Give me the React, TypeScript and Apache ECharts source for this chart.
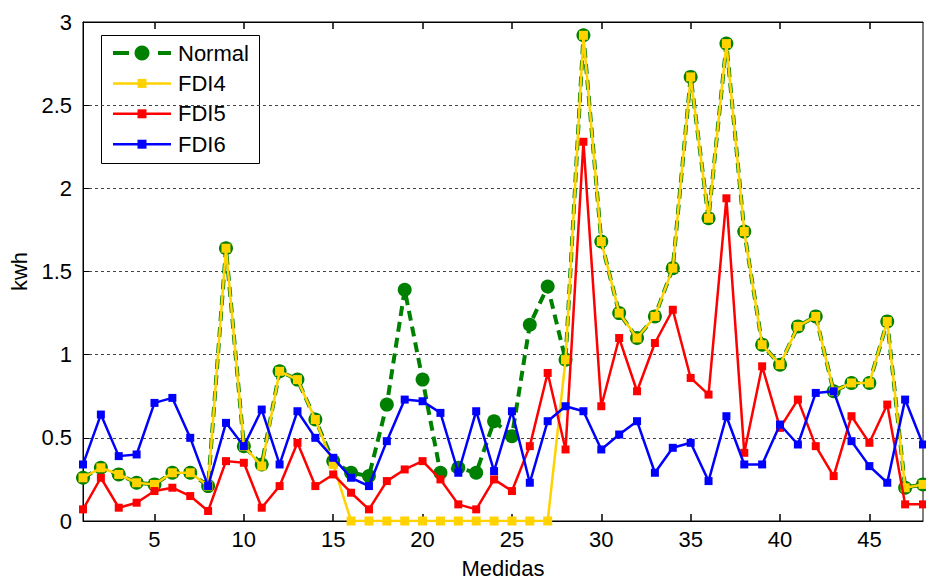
import React, { useEffect, useRef } from "react";
import * as echarts from "echarts";

const categories: string[] = Array.from({ length: 48 }, (_, i) => String(i + 1));

const normal = [
  0.26, 0.32, 0.28, 0.23, 0.22, 0.29, 0.29, 0.21, 1.64, 0.45,
  0.34, 0.9, 0.85, 0.61, 0.36, 0.29, 0.27, 0.7, 1.39, 0.85,
  0.29, 0.32, 0.29, 0.6, 0.51, 1.18, 1.41, 0.97, 2.92, 1.68,
  1.25, 1.1, 1.23, 1.52, 2.67, 1.82, 2.87, 1.74, 1.06, 0.94,
  1.17, 1.23, 0.78, 0.83, 0.83, 1.2, 0.2, 0.22,
];

const fdi4 = [
  0.26, 0.32, 0.28, 0.23, 0.22, 0.29, 0.29, 0.21, 1.64, 0.45,
  0.33, 0.9, 0.85, 0.61, 0.34, 0, 0, 0, 0, 0,
  0, 0, 0, 0, 0, 0, 0, 0.97, 2.92, 1.68,
  1.25, 1.1, 1.23, 1.52, 2.67, 1.82, 2.87, 1.74, 1.06, 0.94,
  1.17, 1.23, 0.78, 0.83, 0.83, 1.2, 0.2, 0.22,
];

const fdi5 = [
  0.07, 0.26, 0.08, 0.11, 0.18, 0.2, 0.15, 0.06, 0.36, 0.35,
  0.08, 0.21, 0.47, 0.21, 0.28, 0.17, 0.07, 0.24, 0.31, 0.36,
  0.25, 0.1, 0.07, 0.25, 0.18, 0.45, 0.89, 0.43, 2.28, 0.69,
  1.1, 0.78, 1.07, 1.27, 0.86, 0.76, 1.94, 0.41, 0.93, 0.56,
  0.73, 0.45, 0.27, 0.63, 0.47, 0.7, 0.1, 0.1,
];

const fdi6 = [
  0.34, 0.64, 0.39, 0.4, 0.71, 0.74, 0.5, 0.21, 0.59, 0.45,
  0.67, 0.34, 0.66, 0.5, 0.38, 0.26, 0.21, 0.48, 0.73, 0.72,
  0.65, 0.29, 0.66, 0.3, 0.66, 0.23, 0.6, 0.69, 0.66, 0.43,
  0.52, 0.6, 0.29, 0.44, 0.47, 0.24, 0.63, 0.34, 0.34, 0.58,
  0.46, 0.77, 0.78, 0.48, 0.33, 0.23, 0.73, 0.46,
];

const seriesNames = ["Normal", "FDI4", "FDI5", "FDI6"];
const seriesColors = ["#008000", "#ffd200", "#ff0000", "#0000ff"];
const FONT = "Liberation Sans, Arial, sans-serif";

function buildLegend() {
  const children: any[] = [
    {
      type: "rect",
      shape: { x: 101.5, y: 35.5, width: 158, height: 128 },
      style: { fill: "#fff", stroke: "#000", lineWidth: 1 },
    },
  ];
  seriesNames.forEach((name, i) => {
    const cy = 53 + i * 30.4;
    const color = seriesColors[i];
    if (i === 0) {
      children.push(
        { type: "line", shape: { x1: 113, y1: cy, x2: 129, y2: cy }, style: { stroke: color, lineWidth: 4 } },
        { type: "line", shape: { x1: 158, y1: cy, x2: 171, y2: cy }, style: { stroke: color, lineWidth: 4 } },
        { type: "circle", shape: { cx: 142, cy, r: 7.5 }, style: { fill: color } }
      );
    } else {
      children.push(
        { type: "line", shape: { x1: 113, y1: cy, x2: 171, y2: cy }, style: { stroke: color, lineWidth: 2.5 } },
        { type: "rect", shape: { x: 137.5, y: cy - 4.5, width: 9, height: 9 }, style: { fill: color } }
      );
    }
    children.push({
      type: "text",
      x: 178,
      y: cy,
      style: {
        text: name,
        fill: "#000",
        font: `22px ${FONT}`,
        verticalAlign: "middle",
        align: "left",
      },
    });
  });
  return [{ type: "group", z: 100, children }];
}

export default function App() {
  const ref = useRef<HTMLDivElement>(null);

  useEffect(() => {
    if (!ref.current) return;
    const chart = echarts.init(ref.current, undefined, { renderer: "svg" });
    const showEvery5 = (index: number, value: string) => Number(value) % 5 === 0;

    const xBase = {
      type: "category" as const,
      data: categories,
      boundaryGap: false,
      axisLine: { show: true, lineStyle: { color: "#000", width: 1 } },
      axisTick: {
        show: true,
        inside: true,
        length: 7,
        interval: showEvery5,
        lineStyle: { color: "#000", width: 1.5 },
      },
      splitLine: { show: false },
    };

    const lineSeries = (i: number, data: number[], extra: any) => ({
      name: seriesNames[i],
      type: "line",
      xAxisIndex: 0,
      data,
      showAllSymbol: true,
      itemStyle: { color: seriesColors[i] },
      ...extra,
    });

    chart.setOption({
      animation: false,
      backgroundColor: "#fff",
      textStyle: { fontFamily: FONT },
      grid: {
        left: 83,
        right: 3,
        top: 22,
        bottom: 59,
        show: true,
        borderColor: "#000",
        borderWidth: 1,
      },
      graphic: buildLegend(),
      xAxis: [
        {
          ...xBase,
          position: "bottom",
          name: "Medidas",
          nameLocation: "middle",
          nameGap: 36,
          nameTextStyle: { fontSize: 22, color: "#000", fontFamily: FONT },
          axisLabel: {
            interval: showEvery5,
            fontSize: 22,
            color: "#000",
            margin: 7,
            fontFamily: FONT,
          },
        },
        {
          ...xBase,
          position: "top",
          axisLabel: { show: false },
        },
      ],
      yAxis: {
        type: "value",
        min: 0,
        max: 3,
        interval: 0.5,
        name: "kwh",
        nameLocation: "middle",
        nameGap: 53,
        nameRotate: 90,
        nameTextStyle: { fontSize: 22, color: "#000", fontFamily: FONT },
        axisLine: { show: true, lineStyle: { color: "#000", width: 1 } },
        axisTick: { show: true, inside: true, length: 6, lineStyle: { color: "#000" } },
        axisLabel: { fontSize: 22, color: "#000", margin: 11, fontFamily: FONT },
        splitLine: {
          show: true,
          lineStyle: { color: "#444", width: 1, type: [3, 3] },
        },
      },
      series: [
        lineSeries(0, normal, {
          symbol: "circle",
          symbolSize: 14,
          lineStyle: { color: seriesColors[0], width: 4, type: [10, 6] },
          z: 2,
        }),
        lineSeries(1, fdi4, {
          symbol: "rect",
          symbolSize: 9,
          lineStyle: { color: seriesColors[1], width: 2.5 },
          z: 3,
        }),
        lineSeries(2, fdi5, {
          symbol: "rect",
          symbolSize: 8,
          lineStyle: { color: seriesColors[2], width: 2.5 },
          z: 4,
        }),
        lineSeries(3, fdi6, {
          symbol: "rect",
          symbolSize: 8,
          lineStyle: { color: seriesColors[3], width: 2.5 },
          z: 5,
        }),
      ],
    });

    return () => chart.dispose();
  }, []);

  return (
    <div
      ref={ref}
      style={{ position: "absolute", left: 0, top: 0, width: 926, height: 584 }}
    />
  );
}
